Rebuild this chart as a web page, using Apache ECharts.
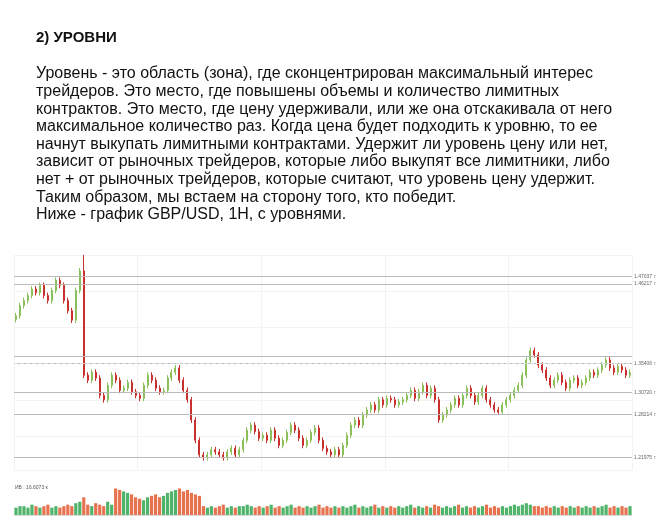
<!DOCTYPE html>
<html><head><meta charset="utf-8">
<script src="https://cdn.jsdelivr.net/npm/echarts@6/dist/echarts.min.js"></script>
<style>html,body{margin:0;background:#fff}#c{width:671px;height:532px}</style>
</head><body><div id="c"></div>
<script>
var chart = echarts.init(document.getElementById('c'));

var titleText = '2) УРОВНИ';
var bodyLines = [
  'Уровень - это область (зона), где сконцентрирован максимальный интерес',
  'трейдеров. Это место, где повышены объемы и количество лимитных',
  'контрактов. Это место, где цену удерживали, или же она отскакивала от него',
  'максимальное количество раз. Когда цена будет подходить к уровню, то ее',
  'начнут выкупать лимитными контрактами. Удержит ли уровень цену или нет,',
  'зависит от рыночных трейдеров, которые либо выкупят все лимитники, либо',
  'нет + от рыночных трейдеров, которые считают, что уровень цену удержит.',
  'Таким образом, мы встаем на сторону того, кто победит.',
  'Ниже - график GBP/USD, 1H, с уровнями.'
];

// closing prices, hourly candles
var closes = [
  1.416,1.430,1.437,1.444,1.453,1.448,1.458,1.444,1.437,1.451,1.465,1.458,1.437,1.423,1.410,1.451,1.478,
  1.334,
  1.327,1.338,1.330,1.306,1.300,1.320,1.334,1.327,1.313,1.316,1.324,1.311,1.306,1.302,1.320,1.334,1.327,1.316,1.311,1.313,1.330,1.338,1.344,1.327,1.313,
  1.300,1.272,1.244,1.224,
  1.220,1.224,1.231,1.228,1.224,1.220,1.228,1.233,1.224,1.231,
  1.244,1.258,1.265,1.256,1.247,
  1.251,1.244,1.258,1.247,1.237,1.244,1.255,1.265,1.258,1.247,1.237,1.244,1.255,1.261,1.244,1.233,1.228,1.224,1.231,1.224,
  1.237,1.251,1.265,1.272,1.265,1.279,1.286,1.293,1.286,1.300,1.293,1.302,1.300,1.293,1.297,
  1.300,1.306,1.313,1.302,1.311,1.320,1.306,1.316,1.300,1.272,
  1.279,1.286,1.293,1.302,1.293,1.306,1.316,1.306,1.297,1.306,1.316,1.300,1.293,1.286,1.283,1.293,1.300,1.306,1.313,1.320,
  1.334,1.355,1.368,1.362,1.348,
  1.341,1.330,1.320,1.327,1.334,1.324,1.316,1.327,1.330,1.320,1.324,1.330,1.338,1.334,1.341,1.348,1.355,1.344,1.338,1.346,1.341,1.334,1.338
];
var volumes = [
  5,6,6,5,7,6,5,6,7,5,6,5,6,7,6,8,9,12,
  7,6,8,7,6,9,7,18,17,16,15,14,12,11,10,12,13,14,12,13,15,16,17,18,16,17,15,14,13,
  6,5,6,5,6,7,5,6,5,6,
  6,7,6,5,6,
  5,6,7,5,6,5,6,7,5,6,5,6,5,6,7,5,6,5,6,5,
  6,5,6,7,5,6,5,6,7,5,6,5,6,5,6,
  5,6,7,5,6,5,6,5,7,6,
  5,6,5,6,7,5,6,5,6,5,6,7,5,6,5,6,5,6,7,6,
  7,8,7,6,6,
  5,6,5,6,5,6,5,6,5,6,5,6,5,6,5,6,7,5,6,5,6,5,6
];
var levels = [1.47037, 1.46217, 1.35406, 1.30720, 1.28214, 1.21975];
var levelTwins = [1.4700, 1.4618, 1.3560, 1.3053, 1.2762, 1.2198];
var lastPrice = 1.348;

var cats = closes.map(function (c, i) { return i; });
var ohlc = closes.map(function (c, i) {
  var o = i === 0 ? 1.411 : closes[i - 1];
  return [o, c, Math.min(o, c) - 0.004, Math.max(o, c) + 0.004];
});
ohlc[17][3] = 1.500;
var volData = volumes.slice(0, ohlc.length).map(function (v, i) {
  return { value: v, itemStyle: { color: ohlc[i][1] >= ohlc[i][0] ? '#4fb36a' : '#e6724f' } };
});

var lvlLines = [];
levels.forEach(function (l, i) {
  lvlLines.push({ yAxis: l, label: { show: true, position: 'end', formatter: l.toFixed(5) + ' \u2195' } });
  lvlLines.push({ yAxis: levelTwins[i], label: { show: false } });
});
lvlLines.push({ yAxis: lastPrice, lineStyle: { type: 'dashed', color: '#ddd', width: 1 }, label: { show: false } });

var graphics = [{ type: 'text', left: 36, top: 30, style: { text: titleText, font: 'bold 15px "Liberation Sans", Arial', fill: '#111' } }];
bodyLines.forEach(function (t, i) {
  graphics.push({ type: 'text', left: 36, top: 66 + i * 17.6, style: { text: t, font: '16px "Liberation Sans", Arial', fill: '#111' } });
});
graphics.push({ type: 'text', left: 15, top: 485, style: { text: 'ИВ : 16.6073 к', font: '5px sans-serif', fill: '#555' } });

option = {
  backgroundColor: '#fff',
  animation: false,
  graphic: graphics,
  grid: [
    { left: 14, right: 39, top: 255, height: 215 },
    { left: 14, right: 39, top: 487, height: 28 }
  ],
  xAxis: [
    { type: 'category', data: cats, gridIndex: 0, axisLine: { show: false }, axisTick: { show: false }, axisLabel: { show: false },
      splitLine: { show: true, interval: 30, lineStyle: { color: '#f3f3f3' } } },
    { type: 'category', data: cats, gridIndex: 1, axisLine: { lineStyle: { color: '#ddd' } }, axisTick: { show: false }, axisLabel: { show: false } }
  ],
  yAxis: [
    { gridIndex: 0, min: 1.203, max: 1.50, position: 'right', axisLabel: { show: false }, axisLine: { show: false }, axisTick: { show: false },
      splitLine: { lineStyle: { color: '#f3f3f3' } } },
    { gridIndex: 1, min: 0, max: 19, axisLabel: { show: false }, splitLine: { show: false } }
  ],
  series: [
    { type: 'candlestick', data: ohlc, barWidth: 1.5,
      itemStyle: { color: '#8bbf5a', color0: '#c9302c', borderColor: '#8bbf5a', borderColor0: '#c9302c' },
      markLine: { symbol: 'none', silent: true, data: lvlLines,
        lineStyle: { color: '#bbb', type: 'solid', width: 1 },
        label: { fontSize: 5, color: '#666', distance: 2 } } },
    { type: 'bar', xAxisIndex: 1, yAxisIndex: 1, data: volData, barCategoryGap: '20%' }
  ]
};
chart.setOption(option);
</script></body></html>
